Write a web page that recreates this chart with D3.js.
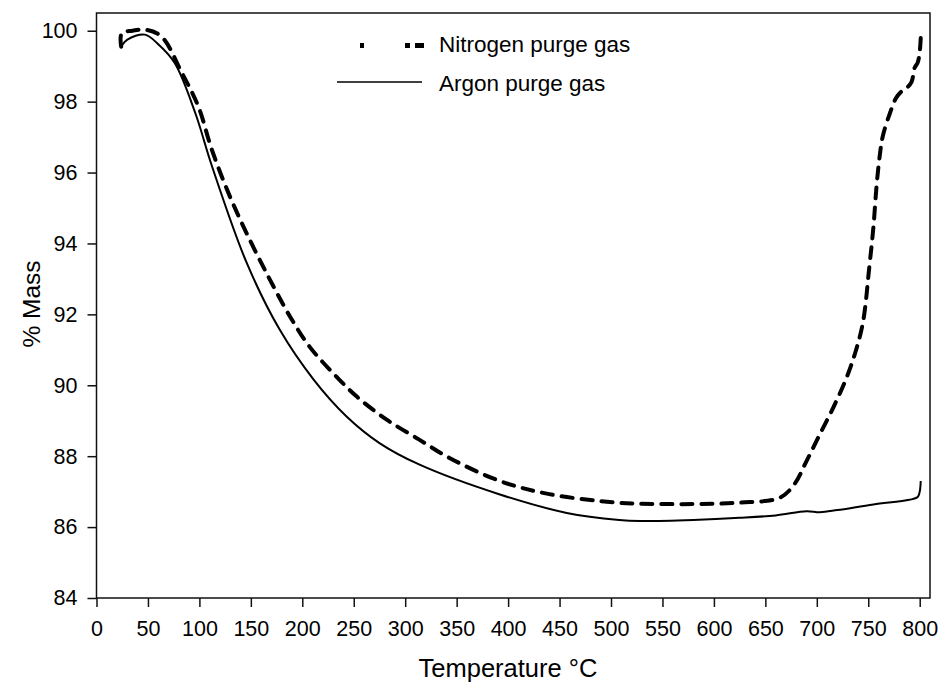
<!DOCTYPE html>
<html>
<head>
<meta charset="utf-8">
<script src="https://cdn.jsdelivr.net/npm/d3@7"></script>
<style>
  body { margin: 0; background: #fff; }
  text { font-family: "Liberation Sans", Arial, sans-serif; fill: #000; }
</style>
</head>
<body>
<div id="cont"></div>
<script>
// temperature (C) and % mass
var nitrogenT = [24, 24.5, 35, 47, 63, 83, 99, 112, 130, 149, 168.5, 188, 207, 230, 253, 282, 314, 343, 392, 440, 505, 528, 580, 625, 664, 678, 690, 703, 716, 729, 738, 745, 751, 755, 758, 761, 764, 771, 777, 782, 787, 792, 795, 798, 800, 801];
var nitrogenM = [99.55, 99.93, 100.0, 100.03, 99.84, 98.81, 97.86, 96.65, 95.3, 94.1, 92.98, 91.94, 91.09, 90.34, 89.68, 89.03, 88.46, 87.95, 87.3, 86.93, 86.69, 86.66, 86.65, 86.69, 86.83, 87.2, 87.86, 88.62, 89.37, 90.22, 90.98, 91.8, 93.33, 94.46, 95.6, 96.44, 97.01, 97.67, 98.1, 98.28, 98.38, 98.55, 98.95, 99.1, 99.4, 99.8];
var argonT = [24, 30, 47, 60, 76, 96, 112, 146, 178, 211, 243, 275, 314, 392, 457, 508, 528, 580, 625, 660, 690, 703, 720, 755, 790, 798, 800, 801];
var argonM = [99.56, 99.75, 99.89, 99.62, 99.09, 97.68, 96.2, 93.45, 91.57, 90.16, 89.12, 88.37, 87.76, 86.92, 86.4, 86.2, 86.17, 86.2, 86.26, 86.33, 86.45, 86.42, 86.48, 86.64, 86.77, 86.85, 87.0, 87.3];
var xTicks = [0, 50, 100, 150, 200, 250, 300, 350, 400, 450, 500, 550, 600, 650, 700, 750, 800];
var yTicks = [84, 86, 88, 90, 92, 94, 96, 98, 100];
var legendLabels = ["Nitrogen purge gas", "Argon purge gas"];

var width = 942, height = 698;
var pLeft = 96.5, pRight = 930, pTop = 13, pBottom = 598;

var x = d3.scaleLinear().domain([0, 810]).range([pLeft, pRight]);
var y = d3.scaleLinear().domain([84, 100.5]).range([pBottom, pTop]);

var svg = d3.select("#cont").append("svg")
  .attr("width", width)
  .attr("height", height);

var line = d3.line()
  .x(function(d) { return x(d[0]); })
  .y(function(d) { return y(d[1]); })
  .curve(d3.curveCatmullRom);

var nitrogen = nitrogenT.map(function(t, i) { return [t, nitrogenM[i]]; });
var argon = argonT.map(function(t, i) { return [t, argonM[i]]; });

svg.append("path")
  .datum(argon)
  .attr("d", line)
  .attr("fill", "none")
  .attr("stroke", "#000")
  .attr("stroke-width", 2);

svg.append("path")
  .datum(nitrogen)
  .attr("d", line)
  .attr("fill", "none")
  .attr("stroke", "#000")
  .attr("stroke-width", 4)
  .attr("stroke-linecap", "round")
  .attr("stroke-dasharray", "11,9");

// frame
svg.append("rect")
  .attr("x", pLeft).attr("y", pTop)
  .attr("width", pRight - pLeft).attr("height", pBottom - pTop)
  .attr("fill", "none").attr("stroke", "#111").attr("stroke-width", 1.5);

var xAxis = svg.append("g")
  .attr("transform", "translate(0," + pBottom + ")")
  .call(d3.axisBottom(x).tickValues(xTicks).tickSize(9).tickPadding(14));
var yAxis = svg.append("g")
  .attr("transform", "translate(" + pLeft + ",0)")
  .call(d3.axisLeft(y).tickValues(yTicks).tickSize(9).tickPadding(10));

[xAxis, yAxis].forEach(function(g) {
  g.select(".domain").remove();
  g.selectAll("line").attr("stroke", "#111").attr("stroke-width", 1.5);
  g.selectAll("text").style("font-size", "21.5px")
    .style("font-family", "'Liberation Sans', Arial, sans-serif").attr("fill", "#000");
});

svg.append("text")
  .attr("x", 508).attr("y", 677)
  .attr("text-anchor", "middle")
  .style("font-size", "25.5px")
  .text("Temperature \u00B0C");

svg.append("text")
  .attr("transform", "translate(40,304) rotate(-90)")
  .attr("text-anchor", "middle")
  .style("font-size", "24.5px")
  .text("% Mass");

// legend
svg.append("path")
  .attr("d", "M360,45.5 H428")
  .attr("stroke", "#000").attr("stroke-width", 5)
  .attr("stroke-dasharray", "4,41,5,5,9,100");
svg.append("line")
  .attr("x1", 337).attr("x2", 422).attr("y1", 82).attr("y2", 82)
  .attr("stroke", "#000").attr("stroke-width", 1.5);

svg.selectAll(".leg")
  .data(legendLabels)
  .enter().append("text")
  .attr("x", 439)
  .attr("y", function(d, i) { return 52 + i * 39; })
  .style("font-size", "22.5px")
  .text(function(d) { return d; });
</script>
</body>
</html>
